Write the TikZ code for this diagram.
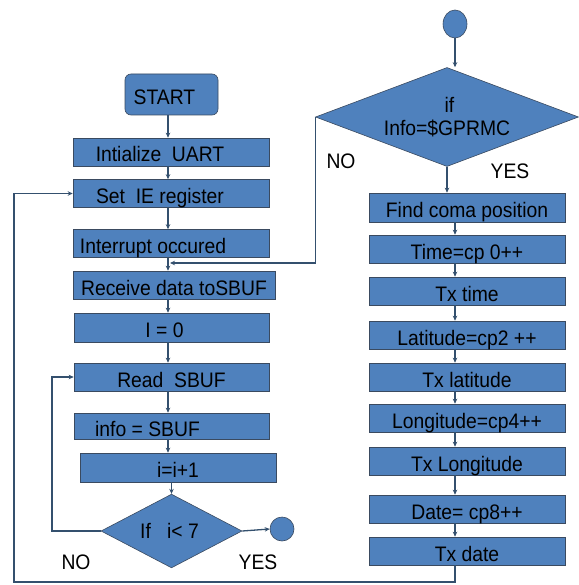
\documentclass[tikz,border=0pt]{standalone}
\usepackage{fontspec}
\setmainfont{Liberation Sans}[FakeStretch=0.92]
\usetikzlibrary{shapes.geometric,arrows.meta,calc}
\definecolor{boxblue}{HTML}{4F81BD}
\definecolor{edgec}{HTML}{3A4A60}
\definecolor{connc}{HTML}{34506E}
\newcommand\sh[2]{\hspace*{#1}#2\hspace*{-#1}}
\begin{document}
\begin{tikzpicture}[x=1pt,y=-1pt,
  txt/.style={font=\fontsize{21}{25}\selectfont, text=black},
  box/.style={txt, draw=edgec, line width=0.6pt, fill=boxblue, minimum width=196pt, minimum height=28pt, inner sep=0pt, text height=21pt, text depth=1pt},
  dia/.style={txt, diamond, draw=edgec, line width=0.6pt, fill=boxblue, inner sep=0pt},
  term/.style={draw=edgec, line width=0.6pt, fill=boxblue, inner sep=0pt},
  arr/.style={draw=connc, line width=1.3pt, -{Stealth[length=5pt,width=4.5pt]}},
  lab/.style={txt, inner sep=0pt}
]
\fill[white] (0,0) rectangle (578,585);
\useasboundingbox (0,0) rectangle (578,585);

% left column
\node[box, rounded corners=6pt, minimum width=93pt, minimum height=41pt] (start) at (171.5,94.5) {\sh{-7pt}{START}};
\node[box] (init)  at (171,152)   {\sh{-11pt}{Intialize~ UART}};
\node[box] (setie) at (171,193.5) {\sh{-11pt}{Set~ IE register}};
\node[box] (intr)  at (171,243.5) {\sh{-18pt}{Interrupt occured}};
\node[box, minimum width=202pt] (recv) at (174,285) {Receive data toSBUF};
\node[box, minimum width=195pt, minimum height=29pt] (izero) at (171.5,327.5) {\sh{-7pt}{I = 0}};
\node[box, minimum width=195pt] (read) at (171.5,377) {Read~ SBUF};
\node[box, minimum width=195pt, minimum height=26pt] (info) at (171.5,426) {\sh{-24pt}{info = SBUF}};
\node[box, minimum height=29pt] (incr) at (178,467.5) {i=i+1};
\node[dia, minimum width=141pt, minimum height=68pt] (dia1) at (171.5,531) {\sh{-2pt}{If~~ i< 7}};
\node[term, circle, minimum size=24pt] (circ1) at (282,529) {};
\node[lab] (no1) at (76,562) {NO};
\node[lab] (yes1) at (258,562) {YES};

% right column
\node[term, ellipse, minimum width=24pt, minimum height=28pt] (top) at (455,24) {};
\node[dia, shape aspect=2.66, minimum width=263pt, minimum height=99pt] (dia2) at (447,117)
  {\raisebox{-5pt}[0pt][0pt]{\parbox{140pt}{\centering\hspace*{5pt}if\\[-2pt] Info=\$GPRMC}}};
\node[lab] (no2) at (341,161) {NO};
\node[lab] (yes2) at (510,171) {YES};

\node[box, minimum height=29pt] (find)   at (467,207.5) {Find coma position};
\node[box] (time)   at (467,249) {Time=cp 0++};
\node[box] (txtime) at (467,291) {Tx time};
\node[box] (lat)    at (467,335) {Latitude=cp2 ++};
\node[box] (txlat)  at (467,377) {Tx latitude};
\node[box] (lon)    at (467,418) {Longitude=cp4++};
\node[box] (txlon)  at (467,461) {Tx Longitude};
\node[box] (date)   at (467,509) {Date= cp8++};
\node[box] (txdate) at (467,551) {Tx date};

% helper coordinates
\coordinate (lx) at (168,0);
\coordinate (rx) at (455,0);
\coordinate (ll) at (52,531);
\coordinate (j1) at (170,263);
\coordinate (bl) at (14,582);

% left connectors
\draw[arr] (start.south -| lx) -- (init.north -| lx);
\draw[arr] (init.south -| lx) -- (setie.north -| lx);
\draw[arr] (setie.south -| lx) -- (intr.north -| lx);
\draw[arr] (intr.south -| lx) -- (recv.north -| lx);
\draw[arr] (recv.south -| lx) -- (izero.north -| lx);
\draw[arr] (izero.south -| lx) -- (read.north -| lx);
\draw[arr] (read.south -| lx) -- (info.north -| lx);
\draw[arr] (info.south -| lx) -- (incr.north -| lx);
\draw[arr] (incr.south -| dia1.north) -- (dia1.north);
\draw[arr] (dia1.east) -- (circ1.west);
\draw[arr] (dia1.west) -- (ll) |- (read.west);

% right connectors
\draw[arr] (top.south) -- (top.south |- dia2.north);
\draw[arr] (dia2.south) -- (find.north -| dia2.south);
\draw[arr] (find.south -| rx) -- (time.north -| rx);
\draw[arr] (time.south -| rx) -- (txtime.north -| rx);
\draw[arr] (txtime.south -| rx) -- (lat.north -| rx);
\draw[arr] (lat.south -| rx) -- (txlat.north -| rx);
\draw[arr] (txlat.south -| rx) -- (lon.north -| rx);
\draw[arr] (lon.south -| rx) -- (txlon.north -| rx);
\draw[arr] (txlon.south -| rx) -- (date.north -| rx);
\draw[arr] (date.south -| rx) -- (txdate.north -| rx);
\draw[arr] (dia2.west) |- (j1);
\draw[arr] (txdate.south -| rx) |- (bl) |- (setie.west);
\end{tikzpicture}
\end{document}
